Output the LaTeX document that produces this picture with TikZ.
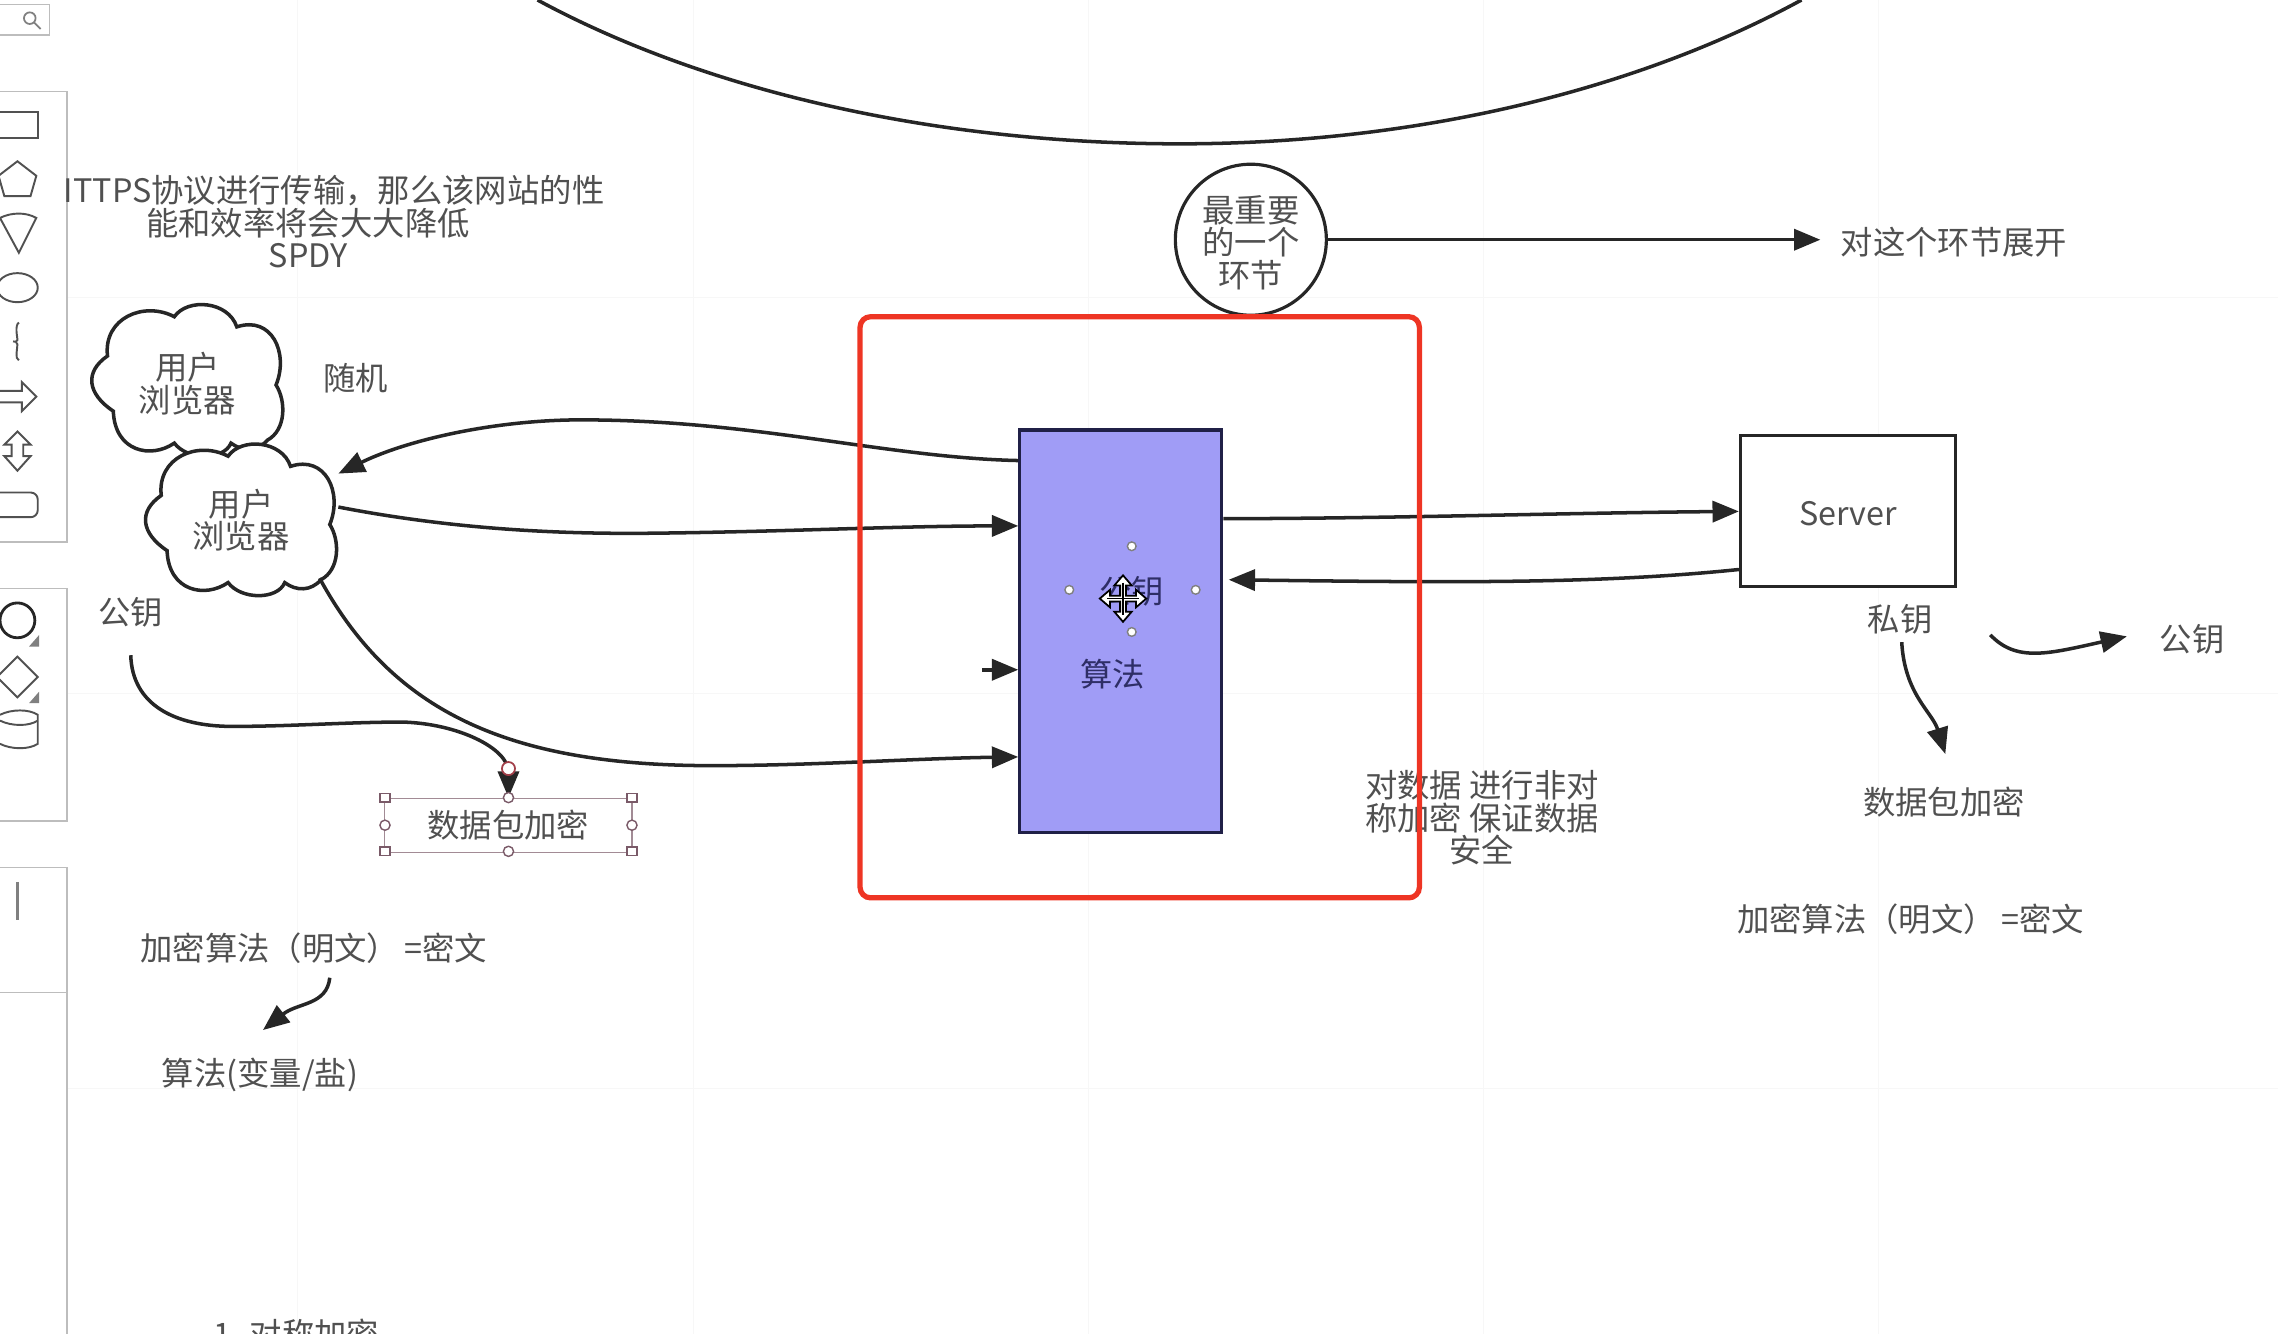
\documentclass[tikz,border=0pt]{standalone}
\usepackage{fontspec}
\setmainfont{Noto Sans CJK SC}
\usetikzlibrary{arrows.meta}

\definecolor{inkgray}{HTML}{505050}
\definecolor{linedark}{HTML}{262626}
\definecolor{panelgray}{HTML}{BDBDBD}
\definecolor{algoblue}{HTML}{A09CF6}
\definecolor{algoink}{HTML}{2E2E66}
\definecolor{framered}{HTML}{EE3524}
\definecolor{pickmauve}{HTML}{7A5A68}

\tikzset{
  txt/.style={font=\fontsize{9.2}{9.2}\selectfont,text=inkgray,inner sep=0pt,align=center},
  flow/.style={draw=linedark,line width=1pt,-{Triangle[length=7.5pt,width=6pt]}},
  tool/.style={draw=linedark!80,line width=.55pt},
  panel/.style={draw=panelgray,line width=.4pt},
  puffline/.style={draw=linedark,line width=1pt,fill=white},
  pick/.style={draw=pickmauve,fill=white,line width=.4pt},
}

\newcommand{\puffcloud}[2]{\path[puffline,shift={(#1,#2)}] (-55,-16) .. controls (-58,-42) and (-30,-54) .. (-9,-43) .. controls (0,-56) and (28,-54) .. (34,-36) .. controls (58,-44) and (70,-18) .. (61,4) .. controls (68,15) and (68,35) .. (55,42) .. controls (48,50) and (38,50) .. (30,44) .. controls (25,56) and (0,56) .. (-9,44) .. controls (-25,55) and (-50,50) .. (-51,22) .. controls (-69,10) and (-71,-5) .. cycle;}

\begin{document}
\begin{tikzpicture}[x=0.014528cm,y=-0.014528cm]
  \useasboundingbox (0,0) rectangle (1568,918.2);

  % Faint page grid of the editor.
  \foreach \gx in {205,477,749,1021,1293} \path[draw=black!3,line width=.2pt] (\gx,0) -- (\gx,918);
  \foreach \gy in {205,477,749} \path[draw=black!3,line width=.2pt] (46,\gy) -- (1568,\gy);

  % Shape palette on the left.
  \path[panel] (0,3) -- (34,3) -- (34,24) -- (0,24);
  \path[draw=gray,line width=.5pt] (20.5,12.5) circle (4) (23.5,15.5) -- (28,20);
  \path[panel] (0,63) -- (46,63) -- (46,373) -- (0,373);
  \path[panel] (0,405) -- (46,405) -- (46,565) -- (0,565);
  \path[panel] (0,597) -- (46,597) -- (46,918);
  \path[panel] (0,683) -- (46,683);
  \path[tool] (0,77) -- (26,77) -- (26,95) -- (0,95);
  \path[tool] (12,111) -- (25,121) -- (21,135) -- (3,135) -- (-1,121) -- cycle;
  \path[tool] (0,150) .. controls (8,146) and (18,146) .. (25,150) -- (13,174) -- cycle;
  \path[tool] (12,198) ellipse (14 and 10);
  \path[tool] (13,222) .. controls (10,224) and (12,232) .. (12,234) .. controls (12,236) and (10,235) .. (9,235) .. controls (10,235) and (12,235) .. (12,237) .. controls (12,240) and (10,247) .. (13,248);
  \path[tool] (0,269) -- (15,269) -- (15,263) -- (25,273) -- (15,283) -- (15,277) -- (0,277);
  \path[tool] (12,297) -- (21,306) -- (16,306) -- (16,314) -- (21,314) -- (12,324) -- (3,314) -- (8,314) -- (8,306) -- (3,306) -- cycle;
  \path[tool,rounded corners=2] (-5,339) rectangle (26,356);
  \path[draw=linedark,line width=.8pt] (12,427) circle (12);
  \path[fill=gray] (27,445) -- (27,437) -- (20,445) -- cycle;
  \path[tool] (12,452) -- (26,466) -- (12,480) -- (-2,466) -- cycle;
  \path[fill=gray] (27,484) -- (27,476) -- (20,484) -- cycle;
  \path[tool] (0,492) .. controls (8,488) and (20,488) .. (26,492) -- (26,512) .. controls (20,516) and (8,516) .. (0,512);
  \path[tool] (0,496) .. controls (8,500) and (20,500) .. (26,496);
  \path[draw=gray,line width=.7pt] (12,607) -- (12,633);

  % Big arc along the top edge.
  \path[draw=linedark,line width=1pt] (370,0) .. controls (490,65) and (650,99) .. (812,99) .. controls (980,99) and (1130,60) .. (1240,0);

  \node[txt] (httpsline) at (230,131.5) {ITTPS协议进行传输，那么该网站的性};
  \node[txt] (spdytext) at (212,164) {能和效率将会大大降低\\SPDY};

  \puffcloud{129}{261}
  \node[txt] (browsertop) at (129,264) {用户\\浏览器};
  \puffcloud{166}{357}
  \node[txt,minimum width=1.93cm,minimum height=1.48cm] (browser) at (166,358) {用户\\浏览器};
  \coordinate (browserfoot) at (220,398);
  \node[txt] (randomtext) at (245,260.5) {随机};
  \node[txt] (pubkeyleft) at (90,421.5) {公钥};
  \coordinate (pubkeyfoot) at (90,451);

  \node[txt,draw=pickmauve!70,line width=.3pt,minimum width=2.47cm,minimum height=.54cm] (packetleft) at (350,568) {数据包加密};
  \node[txt] (formulaleft) at (216,653) {加密算法（明文）\kern1.5pt=密文};
  \coordinate (formulafoot) at (227,673);
  \coordinate (saltbrow) at (181,709);
  \node[txt] (salttext) at (179,740) {算法(变量/盐)};
  \node[txt] (steptext) at (204,918) {1. 对称加密};

  \node[txt,shape=circle,draw=linedark,line width=.9pt,minimum size=1.51cm] (keystep) at (861,165) {};
  \node[txt] (keysteptext) at (861,167) {最重要\\的一个\\环节};
  \coordinate (expandtip) at (1253,165);
  \node[txt] (expandtext) at (1345,167) {对这个环节展开};

  \node[rectangle,draw=algoink!70!black,fill=algoblue,line width=.9pt,minimum width=2.02cm,minimum height=4.025cm] (algobox) at (771.5,434.5) {};
  \node[txt,text=algoink] (pubkeymid) at (779,407) {公钥};
  \node[txt,text=algoink] (algotext) at (766,464) {算法};
  \coordinate (algostub) at (676,461);

  \node[txt,rectangle,draw=linedark,line width=.9pt,fill=white,minimum width=2.15cm,minimum height=1.51cm] (server) at (1272,352) {\smash{\raisebox{-3.9pt}{Server}}};
  \node[txt] (privkey) at (1308,426) {私钥};
  \coordinate (privfoot) at (1309,442);
  \coordinate (packetbrow) at (1339,519);
  \node[txt] (packetright) at (1338,552) {数据包加密};
  \coordinate (pubkeystart) at (1370,437);
  \coordinate (pubkeytip) at (1464,438);
  \node[txt] (pubkeyright) at (1509,440) {公钥};
  \node[txt] (formularight) at (1315,633) {加密算法（明文）\kern1.5pt=密文};
  \node[txt] (asymtext) at (1020,563) {对数据 进行非对\\称加密 保证数据\\安全};

  \path[flow] (algobox.west |- 0,317) .. controls (610,315) and (520,289) .. (400,289) .. controls (340,289) and (280,303) .. (browser.east |- 0,326);
  \path[flow] (browser.east |- 0,349) .. controls (300,362) and (370,368) .. (450,367) .. controls (540,366) and (620,362) .. (algobox.west |- 0,362);
  \path[flow] (browserfoot) .. controls (270,490) and (350,527) .. (490,527) .. controls (560,527) and (630,522) .. (algobox.west |- 0,521);
  \path[flow] (algostub) -- (algobox.west |- 0,461);
  \path[flow] (algobox.east |- 0,357) .. controls (950,357) and (1080,353) .. (server.west);
  \path[flow,shorten >=1.5pt] (server.west |- 0,392) .. controls (1100,402) and (1000,401) .. (algobox.east |- 0,399);
  \path[flow] (keystep.east) -- (expandtip);
  \path[flow] (pubkeyfoot) .. controls (91,485) and (120,500) .. (160,500) .. controls (200,500) and (240,497) .. (277,497) .. controls (315,498) and (350,515) .. (packetleft.north);
  \path[flow] (formulafoot) .. controls (225,692) and (205,690) .. (saltbrow);
  \path[flow] (privfoot) .. controls (1311,478) and (1330,490) .. (packetbrow);
  \path[flow] (pubkeystart) .. controls (1388,456) and (1410,450) .. (pubkeytip);

  % Selection handles.
  \foreach \hx/\hy in {265/549,435/549,265/586,435/586} \path[pick] (\hx-3.5,\hy-3) rectangle (\hx+3.5,\hy+3);
  \foreach \hx/\hy in {350/549,265/568,435/568,350/586} \path[pick] (\hx,\hy) circle (3.5);
  \path[draw=pickmauve!70!red,fill=white,line width=.5pt] (350,529) circle (4.5);
  \foreach \hx/\hy in {779/376,736/406,823/406,779/435} \path[draw=gray,fill=white,line width=.4pt] (\hx,\hy) circle (3);

  % Move cursor.
  \begin{scope}[shift={(773,412)}]
    \path[draw=black,fill=white,line width=.5pt] (16,0) -- (9,6) -- (9,2) -- (2,2) -- (2,9) -- (6,9) -- (0,16) -- (-6,9) -- (-2,9) -- (-2,2) -- (-9,2) -- (-9,6) -- (-16,0) -- (-9,-6) -- (-9,-2) -- (-2,-2) -- (-2,-9) -- (-6,-9) -- (0,-16) -- (6,-9) -- (2,-9) -- (2,-2) -- (9,-2) -- (9,-6) -- cycle;
    \path[draw=black,line width=.45pt] (-11,0) -- (11,0) (0,-11) -- (0,11);
  \end{scope}

  % Red frame lies over the text.
  \path[draw=framered,line width=1.5pt,rounded corners=3] (592,218) rectangle (977,618);
\end{tikzpicture}
\end{document}
